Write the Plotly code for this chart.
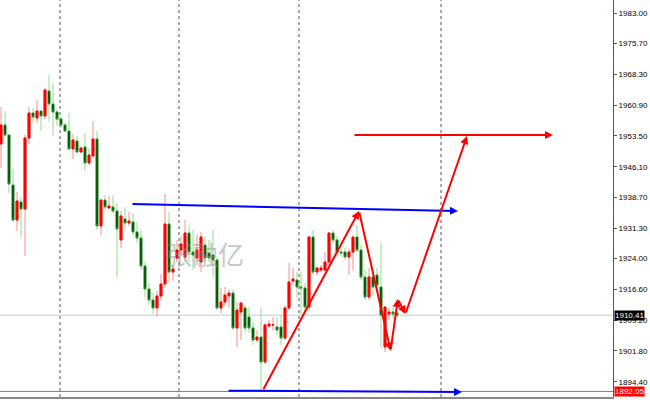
import plotly.graph_objects as go

# ---- data (prices) ----
bar_index = list(range(100))
opens = [1951.57,1956.14,1953.73,1941.71,1933.29,1937.62,1935.94,1953.01,1959.02,1957.82,
         1959.50,1958.30,1964.31,1961.19,1959.26,1957.58,1956.14,1954.69,1950.37,1952.29,
         1949.64,1950.85,1947.00,1948.68,1952.77,1931.85,1938.10,1936.18,1936.42,1935.45,
         1928.48,1933.53,1932.57,1932.81,1930.40,1928.96,1922.23,1916.70,1914.05,1912.13,
         1915.01,1917.90,1932.33,1920.78,1924.15,1926.07,1924.39,1930.16,1925.59,1924.15,
         1923.19,1927.28,1925.35,1924.87,1923.67,1912.13,1913.57,1915.01,1915.73,1907.32,
         1911.16,1912.13,1909.96,1907.32,1904.43,1905.15,1899.14,1907.80,1908.04,1907.56,
         1907.56,1904.91,1912.13,1918.62,1918.86,1917.18,1916.94,1912.37,1929.20,1920.78,
         1921.26,1921.26,1923.19,1930.16,1928.48,1925.59,1925.59,1924.39,1925.59,1929.20,
         1926.07,1919.58,1914.77,1919.58,1920.06,1917.18,1902.75,1910.68,1911.16,1910.92]
highs = [1960.47,1959.50,1953.73,1945.56,1940.02,1938.82,1953.73,1960.47,1960.23,1962.15,
         1959.50,1965.04,1968.16,1966.24,1959.99,1958.06,1956.62,1959.02,1953.97,1953.49,
         1950.61,1954.21,1950.37,1957.10,1954.69,1938.10,1939.30,1939.06,1939.30,1937.38,
         1935.45,1936.42,1935.21,1934.97,1932.81,1930.88,1923.19,1918.14,1915.73,1916.21,
         1920.30,1939.54,1935.21,1922.47,1928.48,1929.44,1933.29,1932.09,1930.88,1929.68,
         1930.40,1929.44,1928.48,1930.88,1924.15,1916.94,1917.18,1916.45,1916.45,1913.57,
         1913.57,1912.85,1912.37,1908.76,1906.83,1912.13,1908.52,1909.24,1909.96,1909.96,
         1910.44,1912.85,1922.95,1921.75,1920.78,1920.78,1918.14,1929.20,1930.88,1921.75,
         1922.47,1925.59,1930.40,1930.88,1929.44,1926.56,1926.56,1926.56,1929.20,1932.09,
         1927.28,1921.26,1921.75,1921.26,1921.75,1927.76,1912.37,1912.13,1912.85,1911.40]
lows = [1945.80,1953.25,1939.78,1932.81,1930.64,1929.20,1924.63,1951.57,1956.62,1956.62,
        1954.69,1957.58,1956.86,1953.49,1956.14,1955.42,1954.45,1950.12,1947.96,1949.40,
        1949.64,1945.07,1946.52,1948.44,1930.88,1929.68,1935.69,1935.94,1934.97,1919.34,
        1926.56,1930.88,1931.85,1929.68,1927.76,1921.26,1914.77,1912.85,1910.68,1910.20,
        1914.05,1916.94,1918.14,1918.62,1923.19,1924.63,1923.19,1923.19,1921.26,1922.47,
        1920.78,1923.19,1923.19,1919.58,1911.64,1910.92,1912.61,1912.13,1906.83,1902.75,
        1904.43,1906.35,1906.11,1903.23,1903.95,1892.40,1898.66,1907.32,1906.83,1905.63,
        1903.23,1904.43,1911.64,1917.66,1914.53,1910.44,1910.44,1911.64,1920.06,1920.06,
        1920.78,1920.78,1922.47,1927.76,1924.63,1924.63,1923.67,1920.06,1921.26,1925.59,
        1918.86,1914.05,1914.05,1915.25,1916.45,1902.51,1901.54,1909.24,1909.72,1909.72]
closes = [1956.14,1953.73,1941.95,1933.29,1937.86,1935.94,1953.01,1959.02,1958.06,1959.50,
          1958.30,1964.55,1961.19,1959.26,1957.58,1956.14,1954.69,1950.37,1952.53,1949.64,
          1950.61,1947.00,1948.92,1952.77,1931.85,1938.10,1936.42,1936.66,1935.45,1931.13,
          1934.25,1932.57,1933.05,1930.40,1928.96,1922.23,1916.70,1914.05,1912.13,1915.01,
          1917.90,1932.33,1920.78,1921.51,1926.07,1927.52,1930.16,1925.59,1924.87,1926.07,
          1929.20,1924.15,1924.15,1923.67,1912.13,1913.57,1915.25,1915.73,1907.32,1911.64,
          1913.33,1907.32,1907.32,1904.43,1905.15,1899.14,1908.04,1908.28,1908.10,1906.83,
          1904.91,1912.13,1918.38,1919.10,1917.18,1916.94,1912.37,1929.20,1920.78,1921.75,
          1921.75,1923.19,1930.16,1928.48,1925.59,1925.35,1924.39,1925.59,1929.20,1926.07,
          1919.58,1914.77,1919.58,1917.18,1917.66,1910.44,1912.37,1911.16,1910.68,1910.41]

tick_values = [1983.00,1975.70,1968.30,1960.90,1953.50,1946.10,1938.70,
               1931.30,1924.00,1916.60,1909.20,1901.80,1894.40]
tick_labels = ["%.2f" % v for v in tick_values]

current_price = 1910.41
alert_price = 1892.05
period_separators = [14.75, 44.5, 74.5, 110.0]

# drawn objects (data coordinates)
blue_upper = [(32.5, 1937.14), (114.25, 1935.45)]
blue_lower = [(56.5, 1892.24), (115.25, 1891.92)]
red_target = [(88.0, 1953.73), (138.0, 1953.73)]
red_path = [(65.4, 1892.24), (89.5, 1935.45), (97.4, 1901.86),
            (99.2, 1914.29), (101.1, 1910.68), (116.5, 1953.49)]
watermark = "张融亿"

body_top = [max(o, c) for o, c in zip(opens, closes)]
body_bot = [min(o, c) for o, c in zip(opens, closes)]

fig = go.Figure()
# wicks (light colours)
fig.add_trace(go.Candlestick(
    x=bar_index, open=opens, high=highs, low=lows, close=closes,
    increasing=dict(line=dict(color="#ff8c8c", width=1), fillcolor="#ff0000"),
    decreasing=dict(line=dict(color="#8fe08f", width=1), fillcolor="#000000"),
    whiskerwidth=0, showlegend=False, hoverinfo="skip"))
# solid bodies on top
fig.add_trace(go.Candlestick(
    x=bar_index, open=opens, high=body_top, low=body_bot, close=closes,
    increasing=dict(line=dict(color="#ff0000", width=1), fillcolor="#ff0000"),
    decreasing=dict(line=dict(color="#2e9e2e", width=1), fillcolor="#000000"),
    whiskerwidth=0, showlegend=False, hoverinfo="skip"))

shapes = []
for xs in period_separators:
    shapes.append(dict(type="line", xref="x", yref="paper", x0=xs, x1=xs, y0=0, y1=1,
                       line=dict(color="#555555", width=1, dash="dot"), layer="below"))
shapes.append(dict(type="line", xref="paper", yref="y", x0=0, x1=1,
                   y0=current_price, y1=current_price,
                   line=dict(color="#c8c8c8", width=1), layer="below"))
shapes.append(dict(type="line", xref="paper", yref="y", x0=0, x1=1,
                   y0=alert_price, y1=alert_price,
                   line=dict(color="#ff5050", width=1), layer="below"))

annotations = []

def arrow(p0, p1, color):
    annotations.append(dict(x=p1[0], y=p1[1], ax=p0[0], ay=p0[1], xref="x", yref="y",
                            axref="x", ayref="y", text="", showarrow=True,
                            arrowhead=2, arrowsize=0.8, arrowwidth=2,
                            arrowcolor=color))

arrow(blue_upper[0], blue_upper[1], "#0000ff")
arrow(blue_lower[0], blue_lower[1], "#0000ff")
arrow(red_target[0], red_target[1], "#ff0000")
for a, b in zip(red_path[:-1], red_path[1:]):
    arrow(a, b, "#ff0000")

annotations.append(dict(x=51, y=1925.3, xref="x", yref="y", text=watermark, showarrow=False,
                        font=dict(family="Noto Sans CJK SC", size=26, color="rgba(140,140,150,0.5)")))

for price, bg in [(current_price, "#000000"), (alert_price, "#ff0000")]:
    annotations.append(dict(x=1.0, xref="paper", y=price, yref="y", xanchor="left",
                            text="%.2f" % price, showarrow=False, bgcolor=bg,
                            font=dict(family="Liberation Sans", size=8, color="white"),
                            borderpad=0, xshift=1))

fig.update_layout(
    width=650, height=400,
    margin=dict(l=0, r=37, t=0, b=3, autoexpand=False),
    paper_bgcolor="white", plot_bgcolor="white",
    shapes=shapes, annotations=annotations,
    xaxis=dict(range=[-0.25, 153], showticklabels=False, showgrid=False, zeroline=False,
               rangeslider=dict(visible=False), showline=True, linecolor="#888888",
               linewidth=2, fixedrange=True),
    yaxis=dict(range=[1890.72, 1986.2], side="right", tickvals=tick_values,
               ticktext=tick_labels, showgrid=False, zeroline=False, showline=True,
               linecolor="#555555", linewidth=1, ticks="outside", ticklen=3,
               tickcolor="#555555",
               tickfont=dict(family="Liberation Sans", size=8, color="#000000")),
)

fig.write_html("out.html", config={"displayModeBar": False},
               post_script="document.body.style.margin='0';")
